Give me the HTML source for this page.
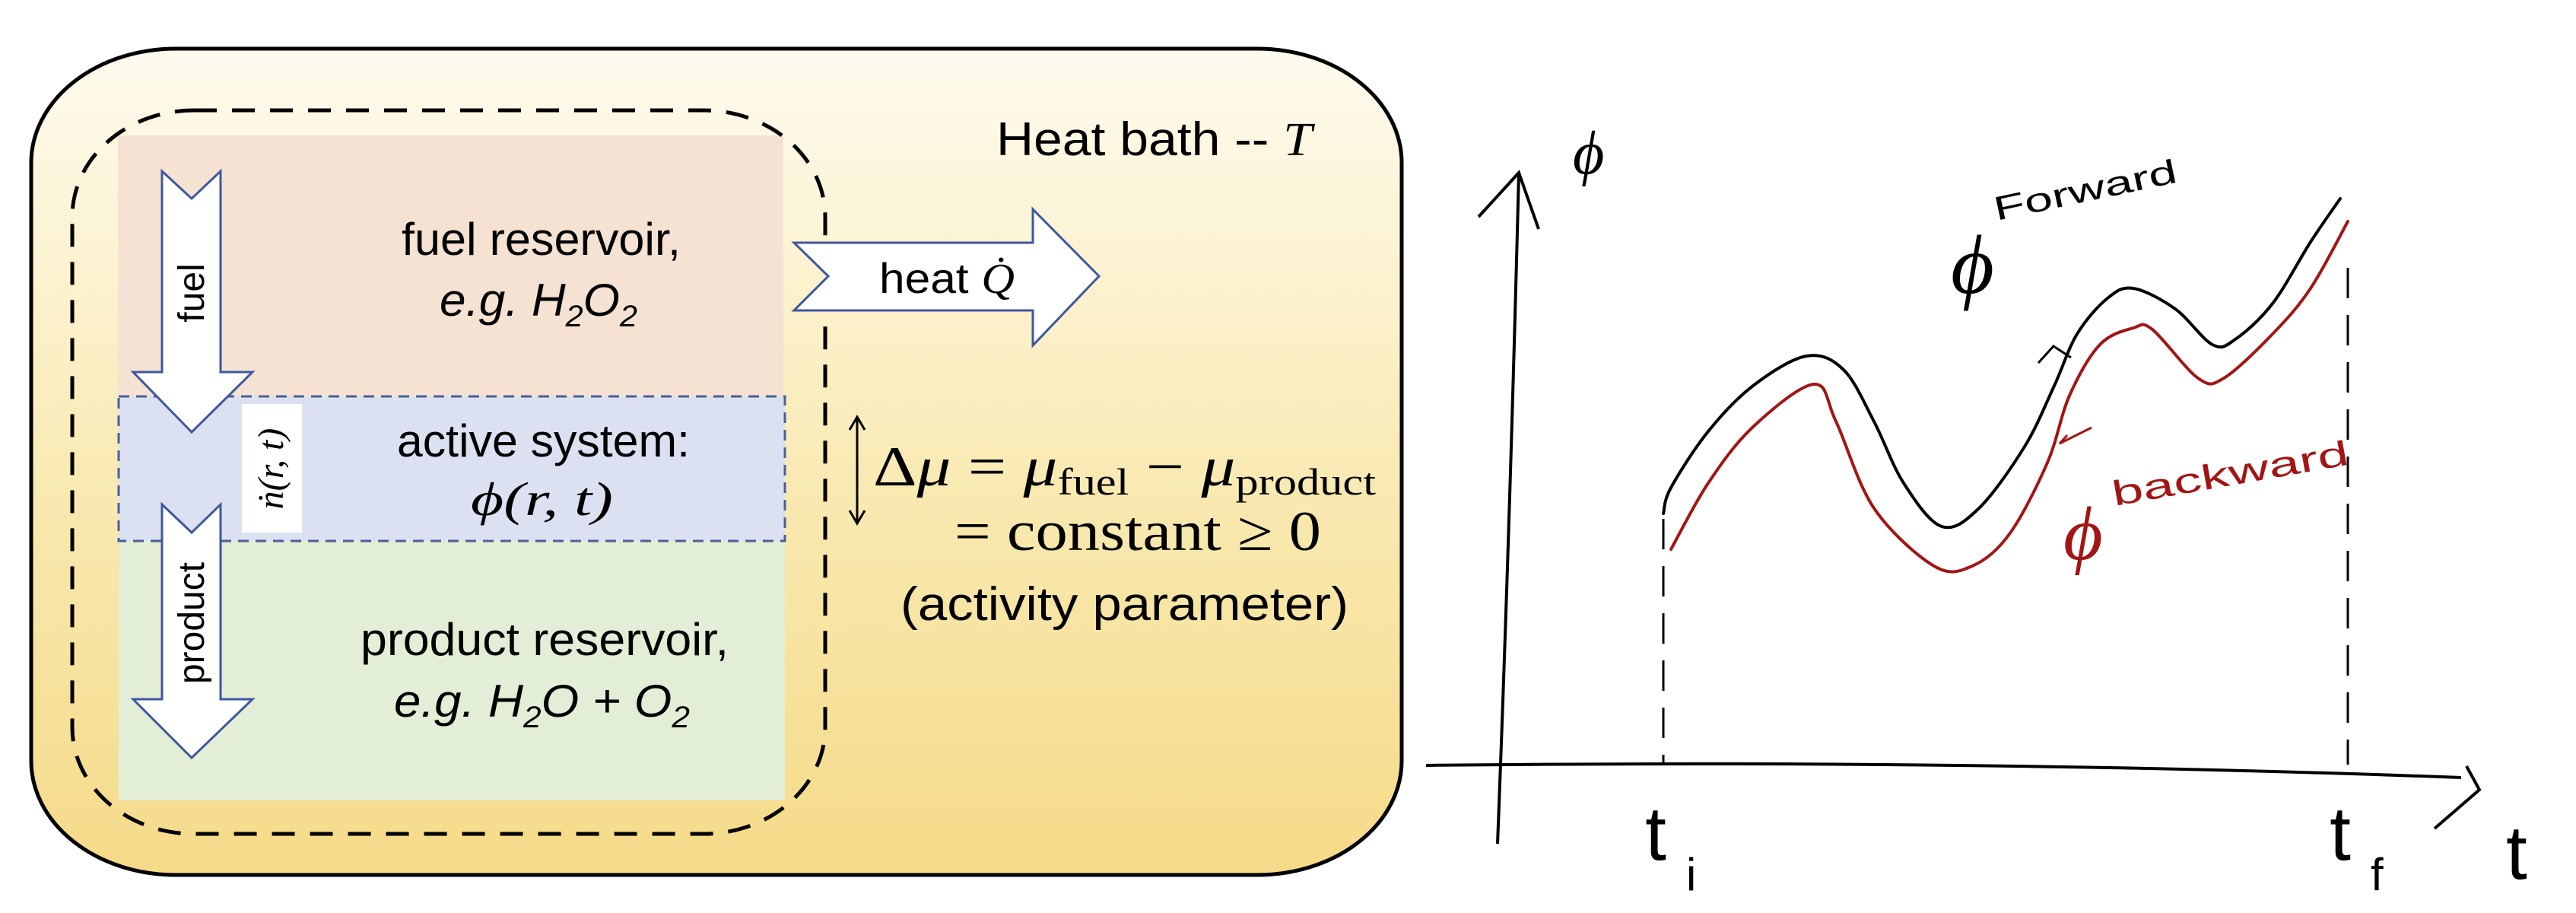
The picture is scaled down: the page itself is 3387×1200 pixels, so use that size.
<!DOCTYPE html>
<html><head><meta charset="utf-8"><style>
html,body{margin:0;padding:0;background:#fff;width:3387px;height:1200px;overflow:hidden}
svg{display:block}
.c{font-family:"Liberation Sans Narrow","Liberation Sans",sans-serif;fill:#000}
.m{font-family:"Liberation Serif",serif;fill:#000}
.h{font-family:"Liberation Sans","DejaVu Sans",sans-serif}
</style></head><body>
<svg id="fig" width="3387" height="1200" viewBox="0 0 3387 1200" xmlns="http://www.w3.org/2000/svg">
<defs>
<linearGradient id="bath" x1="0" y1="0" x2="0" y2="1">
<stop offset="0" stop-color="#fefbef"/><stop offset="0.55" stop-color="#f9e9b0"/><stop offset="1" stop-color="#f5da88"/>
</linearGradient>
</defs>
<g>
<rect x="41" y="64" width="1802" height="1086" rx="190" ry="150" fill="url(#bath)" stroke="#000" stroke-width="5"/>
<rect x="155" y="178" width="875" height="343" fill="#f5e2d2"/>
<rect x="156" y="711" width="876" height="341" fill="#e3eed6"/>
<rect x="156" y="521" width="876" height="190" fill="#dce1f1" stroke="#4a5f96" stroke-width="3" stroke-dasharray="14 9"/>
<rect x="95" y="145" width="990" height="951" rx="160" ry="140" fill="none" stroke="#000" stroke-width="5" stroke-dasharray="30 20"/>
<polygon points="213,225 252,261 290,225 290,489 332,489 252,568 175,489 213,489" fill="#fff" stroke="#3f57a0" stroke-width="3"/>
<text class="h" transform="translate(268,385) rotate(-90)" font-size="48" text-anchor="middle">fuel</text>
<polygon points="213,663 252,700 290,663 290,919 332,919 252,996 175,919 213,919" fill="#fff" stroke="#3f57a0" stroke-width="3"/>
<text class="h" transform="translate(268,819) rotate(-90)" font-size="48" text-anchor="middle">product</text>
<rect x="318" y="531" width="79" height="169" fill="#fff"/>
<text class="m" transform="translate(372,616) rotate(-90)" font-size="48" font-style="italic" text-anchor="middle">ṅ(r, t)</text>
<text class="c" x="528" y="335" font-size="60" textLength="367" lengthAdjust="spacingAndGlyphs">fuel reservoir,</text>
<text class="c" x="578" y="415" font-size="60" font-style="italic" textLength="260" lengthAdjust="spacingAndGlyphs">e.g. H<tspan font-size="40" dy="14">2</tspan><tspan dy="-14">O</tspan><tspan font-size="40" dy="14">2</tspan></text>
<text class="c" x="522" y="600" font-size="60" textLength="385" lengthAdjust="spacingAndGlyphs">active system:</text>
<text class="m" x="619" y="677" font-size="62" font-style="italic" textLength="187" lengthAdjust="spacingAndGlyphs">ϕ(r, t)</text>
<text class="c" x="474" y="861" font-size="60" textLength="484" lengthAdjust="spacingAndGlyphs">product reservoir,</text>
<text class="c" x="518" y="942" font-size="60" font-style="italic" textLength="389" lengthAdjust="spacingAndGlyphs">e.g. H<tspan font-size="40" dy="14">2</tspan><tspan dy="-14">O + O</tspan><tspan font-size="40" dy="14">2</tspan></text>
<text class="c" x="1310" y="204" font-size="62" textLength="415" lengthAdjust="spacingAndGlyphs">Heat bath -- <tspan font-family="Liberation Serif" font-style="italic">T</tspan></text>
<polygon points="1044,319 1358,319 1358,275 1445,363 1358,454 1358,408 1044,408 1089,363" fill="#fff" stroke="#3f57a0" stroke-width="3"/>
<text class="c" x="1156" y="385" font-size="56" textLength="178" lengthAdjust="spacingAndGlyphs">heat  <tspan font-family="Liberation Serif" font-style="italic">Q̇</tspan></text>
<g stroke="#000" stroke-width="3" fill="none">
<line x1="1127" y1="550" x2="1127" y2="686"/><polyline points="1117,565 1127,548 1137,565"/><polyline points="1117,671 1127,688 1137,671"/>
</g>
<text class="m" x="1148" y="638" font-size="74" textLength="661" lengthAdjust="spacingAndGlyphs">Δ<tspan font-style="italic">μ</tspan> = <tspan font-style="italic">μ</tspan><tspan font-size="50" dy="12">fuel</tspan><tspan dy="-12"> − </tspan><tspan font-style="italic">μ</tspan><tspan font-size="50" dy="12">product</tspan></text>
<text class="m" x="1255" y="723" font-size="74" textLength="482" lengthAdjust="spacingAndGlyphs">= constant ≥ 0</text>
<text class="c" x="1184" y="815" font-size="62" textLength="589" lengthAdjust="spacingAndGlyphs">(activity parameter)</text>
</g>
<g id="plot"></g>
</svg>
<script>
const forwardT   = [1.97,2.07,2.56,3.15,3.85,4.34,4.74,5.13,5.63,6.12,6.72,7.11,7.41,7.81,8.15,8.70,9.19,9.49,9.98,10.48,10.87];
const forwardPhi = [3.31,3.65,4.39,4.99,5.38,5.20,4.52,3.71,3.14,3.38,4.19,4.99,5.67,6.14,6.27,6.00,5.53,5.60,6.07,6.88,7.45];
const backwardT   = [2.07,2.56,3.15,3.95,4.24,4.74,5.53,6.03,6.52,7.02,7.31,7.71,8.15,8.40,9.00,9.34,9.98,10.48,10.97];
const backwardPhi = [2.84,3.71,4.45,5.01,4.52,3.38,2.62,2.62,3.04,3.98,4.86,5.53,5.75,5.73,5.09,5.09,5.67,6.27,7.15];
const markerT = [1.97, 10.97];
const markerLabels = ["t", "t"];
const markerSubs = ["i", "f"];

const NS = "http://www.w3.org/2000/svg";
const g = document.getElementById("plot");
function xS(t){ return 1990 + t*100; }
function yS(p){ return 1006 - p*100; }
function mk(tag, attrs){ const e=document.createElementNS(NS,tag); for(const k in attrs) e.setAttribute(k,attrs[k]); g.appendChild(e); return e; }
function smooth(ts, ps){
  const P = ts.map((t,i)=>[xS(t), yS(ps[i])]);
  let d = "M"+P[0][0]+","+P[0][1];
  for(let i=0;i<P.length-1;i++){
    const p0=P[Math.max(0,i-1)], p1=P[i], p2=P[i+1], p3=P[Math.min(P.length-1,i+2)];
    const c1=[p1[0]+(p2[0]-p0[0])/6, p1[1]+(p2[1]-p0[1])/6];
    const c2=[p2[0]-(p3[0]-p1[0])/6, p2[1]-(p3[1]-p1[1])/6];
    d += " C"+c1[0]+","+c1[1]+" "+c2[0]+","+c2[1]+" "+p2[0]+","+p2[1];
  }
  return d;
}
let e;
e = mk("path",{d:"M1969,1109 Q1985,700 1997,227",fill:"none",stroke:"#000","stroke-width":4});


e = mk("polyline",{points:"1944,285 1997,227 2023,301",fill:"none",stroke:"#000","stroke-width":4});


e = mk("path",{d:"M1875,1006 Q2600,998 3236,1022",fill:"none",stroke:"#000","stroke-width":4});


e = mk("polyline",{points:"3243,1007 3260,1038 3201,1089",fill:"none",stroke:"#000","stroke-width":4});


e = mk("text",{x:2068,y:228,"font-family":"Liberation Serif","font-size":80,"font-style":"italic"});
e.textContent="ϕ";


e = mk("text",{x:3295,y:1155,"font-family":"Liberation Sans","font-size":100});
e.textContent="t";


markerT.forEach((t,i)=>{
  const l = mk("line",{x1:xS(t),y1:i?352:682,x2:xS(t),y2:1005,stroke:"#000","stroke-width":3,"stroke-dasharray":"40 22"});
  
  
  const tx = mk("text",{x:xS(t)-10,y:1130,"font-family":"Liberation Sans","font-size":100,"text-anchor":"middle"});
  tx.textContent = markerLabels[i];
  
  
  const ts = mk("text",{x:xS(t)+30,y:1170,"font-family":"Liberation Sans","font-size":60});
  ts.textContent = markerSubs[i];
  
  
});
const fw = mk("path",{d:smooth(forwardT,forwardPhi),fill:"none",stroke:"#000","stroke-width":4,"stroke-linecap":"round"});


const bw = mk("path",{d:smooth(backwardT,backwardPhi),fill:"none",stroke:"#a31515","stroke-width":4,"stroke-linecap":"round"});


e = mk("polyline",{points:"2680,477 2700,455 2723,470",fill:"none",stroke:"#000","stroke-width":3});


e = mk("polyline",{points:"2718,572 2708,583 2750,562",fill:"none",stroke:"#a31515","stroke-width":3});


e = mk("text",{x:2565,y:385,"font-family":"Liberation Serif","font-size":110,"font-style":"italic"});
e.textContent="ϕ";


e = mk("text",{x:2625,y:290,"font-family":"Liberation Sans","font-size":44,transform:"rotate(-12 2625 290)",textLength:245,lengthAdjust:"spacingAndGlyphs"});
e.textContent="Forward";


e = mk("text",{x:2713,y:735,"font-family":"Liberation Serif","font-size":100,"font-style":"italic",fill:"#a31515"});
e.textContent="ϕ";


e = mk("text",{x:2780,y:665,"font-family":"Liberation Sans","font-size":46,fill:"#a31515",transform:"rotate(-10 2780 665)",textLength:315,lengthAdjust:"spacingAndGlyphs"});
e.textContent="backward";


</script>
</body></html>
